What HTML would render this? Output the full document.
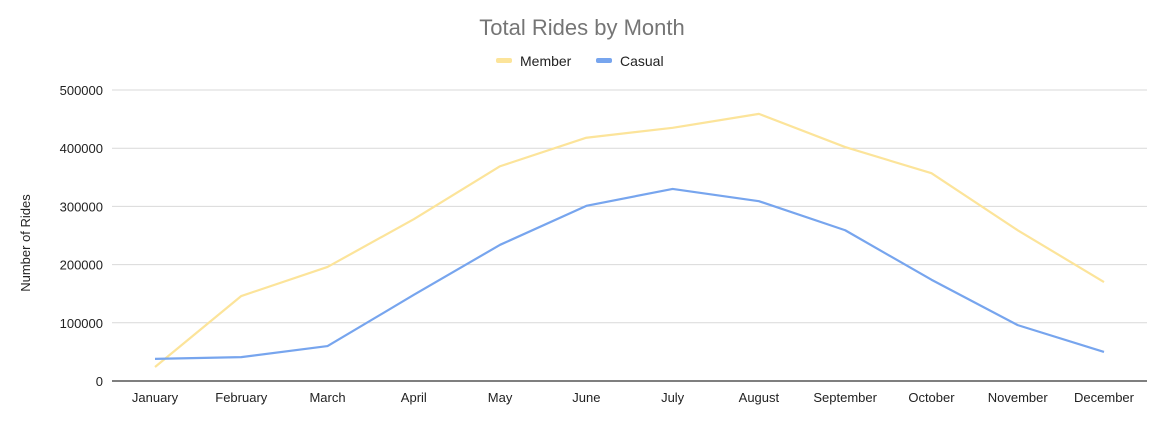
<!DOCTYPE html>
<html><head><meta charset="utf-8"><style>
body{margin:0;background:#fff;font-family:"Liberation Sans",Arial,sans-serif}
</style></head><body>
<svg id="chart" width="1161" height="423" xmlns="http://www.w3.org/2000/svg">
<text x="582" y="35" text-anchor="middle" font-size="22" fill="#757575">Total Rides by Month</text>
<g>
<rect x="496" y="58" width="16" height="5" rx="2" fill="#fce49a"/>
<text x="520" y="66" font-size="14" fill="#222">Member</text>
<rect x="596" y="58" width="16" height="5" rx="2" fill="#77a5ee"/>
<text x="620" y="66" font-size="14" fill="#222">Casual</text>
</g>
<text transform="translate(30,243) rotate(-90)" text-anchor="middle" font-size="13" fill="#222">Number of Rides</text>
<g id="grid"></g><g id="series"></g>
</svg>
<script>
const months=["January","February","March","April","May","June","July","August","September","October","November","December"];
const member=[24000,146000,196000,278000,369000,418000,435000,459000,402000,357000,259000,170000];
const casual=[38000,41000,60000,148000,234000,301000,330000,309000,259000,174000,96000,50000];
const yTicks=[0,100000,200000,300000,400000,500000];
const NS="http://www.w3.org/2000/svg";
const x=i=>155+i*(1104-155)/11;
const y=v=>381-v*(381-90)/500000;
const grid=document.getElementById('grid'),series=document.getElementById('series');
function mk(t,a,p){const e=document.createElementNS(NS,t);for(const k in a)e.setAttribute(k,a[k]);p.appendChild(e);return e;}
yTicks.forEach(v=>{
 const l=mk('line',{x1:112,x2:1147,y1:y(v),y2:y(v),stroke:v===0?'#333':'#d9d9d9','stroke-width':v===0?1.3:1},grid);
 
 
 const t=mk('text',{x:103,y:y(v)+5,'text-anchor':'end','font-size':13,fill:'#222'},grid);t.textContent=v;
 
 
});
months.forEach((m,i)=>{
 const t=mk('text',{x:x(i),y:402,'text-anchor':'middle','font-size':13,fill:'#222'},grid);t.textContent=m;
 
 
});
[[member,'#fce49a','member-line'],[casual,'#77a5ee','casual-line']].forEach(([d,c,n])=>{
 const p=mk('polyline',{points:d.map((v,i)=>x(i)+','+y(v)).join(' '),fill:'none',stroke:c,'stroke-width':2.2,'stroke-linejoin':'round'},series);
 
 
});
</script>
</body></html>
